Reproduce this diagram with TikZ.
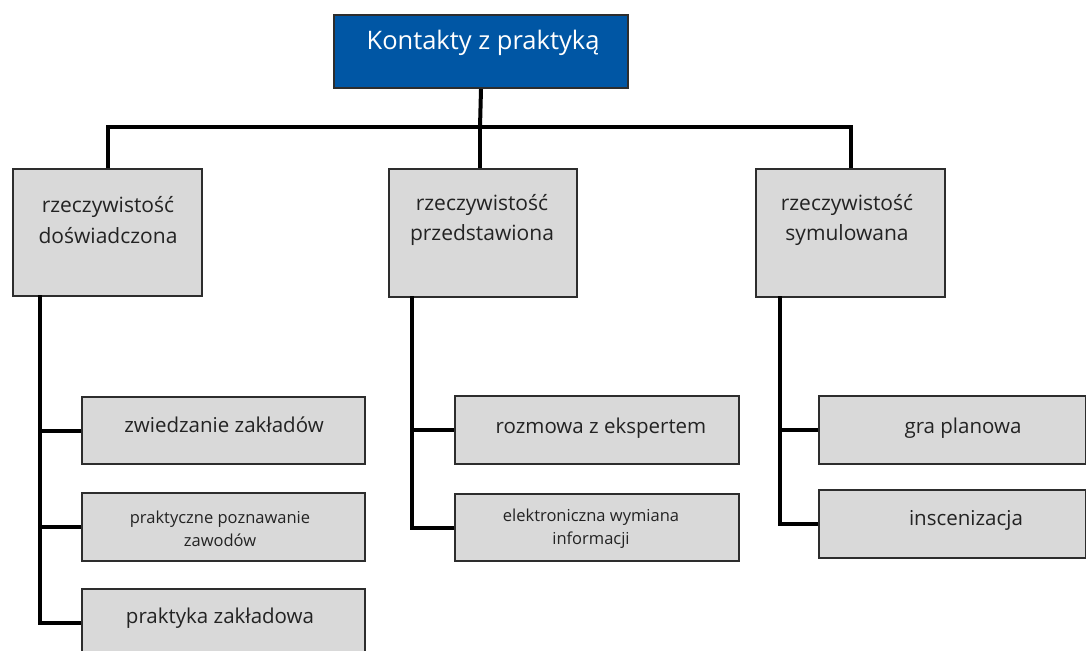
\documentclass[tikz,border=0pt]{standalone}
\usepackage{fontspec}
\setmainfont{Open Sans}
\definecolor{topblue}{RGB}{0,86,164}
\definecolor{boxgray}{RGB}{217,217,217}
\definecolor{edgegray}{RGB}{45,45,45}
\definecolor{txtgray}{RGB}{35,35,35}
\begin{document}
\begin{tikzpicture}[x=1pt,y=-1pt,
  box/.style={draw=edgegray, line width=2pt, fill=boxgray, inner sep=0pt, anchor=north west},
  conn/.style={line width=4pt, black},
  cattxt/.style={align=center, text=txtgray, font=\fontsize{21}{30.5}\selectfont, inner sep=0pt},
  childtxt/.style={align=center, text=txtgray, font=\fontsize{20.5}{24}\selectfont, inner sep=0pt},
  smalltxt/.style={align=center, text=txtgray, font=\fontsize{16.5}{23}\selectfont, inner sep=0pt},
]
\useasboundingbox (0,0) rectangle (1086,650);
% boxes
\node[box, fill=topblue, minimum width=294pt, minimum height=73pt] (top) at (333,14) {};
\node[box, minimum width=189pt, minimum height=127pt] (L) at (12,168) {};
\node[box, minimum width=188pt, minimum height=128pt] (M) at (388,168) {};
\node[box, minimum width=189pt, minimum height=128pt] (R) at (755,168) {};
\node[box, minimum width=283pt, minimum height=67pt] (c11) at (81,396) {};
\node[box, minimum width=283pt, minimum height=68pt] (c12) at (81,492) {};
\node[box, minimum width=283pt, minimum height=68pt] (c13) at (81,588) {};
\node[box, minimum width=284pt, minimum height=68pt] (c21) at (454,395) {};
\node[box, minimum width=284pt, minimum height=67pt] (c22) at (454,493) {};
\node[box, minimum width=267pt, minimum height=68pt] (c31) at (818,395) {};
\node[box, minimum width=267pt, minimum height=68pt] (c32) at (818,489) {};
% texts
\node[inner sep=0pt, text=white, font=\fontsize{25.5}{30}\selectfont] (toptxt) at (483,43) {Kontakty z praktyką};
\node[cattxt] (Ltxt) at (108,220) {rzeczywistość\\doświadczona};
\node[cattxt] (Mtxt) at (482,220) {rzeczywistość\\przedstawiona};
\node[cattxt] (Rtxt) at (847,220) {rzeczywistość\\symulowana};
\node[childtxt] (t11) at (224,425) {zwiedzanie zakładów};
\node[smalltxt] (t12) at (220,529) {praktyczne poznawanie\\zawodów};
\node[childtxt] (t13) at (220,618) {praktyka zakładowa};
\node[childtxt] (t21) at (601,428) {rozmowa z ekspertem};
\node[smalltxt] (t22) at (591,529) {elektroniczna wymiana\\informacji};
\node[childtxt] (t31) at (963,428) {gra planowa};
\node[childtxt] (t32) at (966,520) {inscenizacja};
% connectors
\coordinate (bar) at (480,127);
\coordinate (ls) at (40,295);
\coordinate (ms) at (412,296);
\coordinate (rs) at (780,296);
\draw[conn] (top.south) -- (bar);
\draw[conn] (L.north) |- (bar) -| (R.north);
\draw[conn] (bar) -- (bar |- M.north);
\draw[conn] (ls) |- (c13.west);
\draw[conn] (ls |- c11.west) -- (c11.west);
\draw[conn] (ls |- c12.west) -- (c12.west);
\draw[conn] (ms) |- (c22.west);
\draw[conn] (ms |- c21.west) -- (c21.west);
\draw[conn] (rs) |- (c32.west);
\draw[conn] (rs |- c31.west) -- (c31.west);
\end{tikzpicture}
\end{document}
